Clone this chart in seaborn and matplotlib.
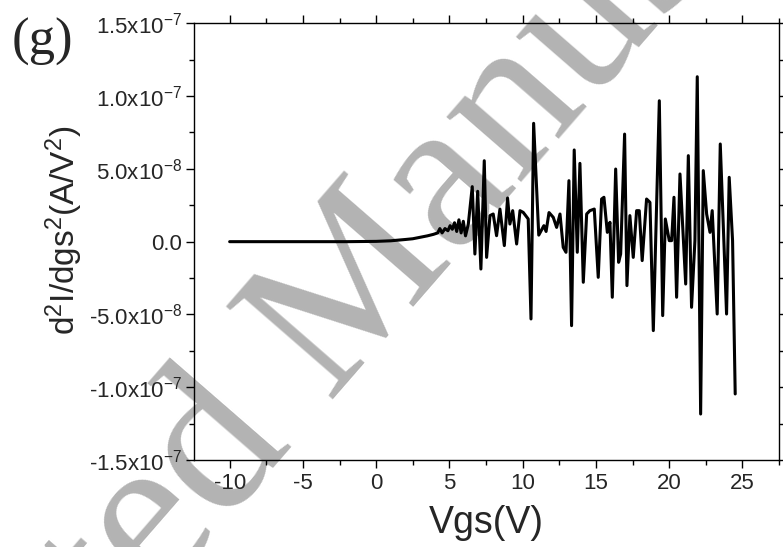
import matplotlib
matplotlib.use("Agg")
import matplotlib.pyplot as plt
import seaborn as sns
import numpy as np
from matplotlib.ticker import MultipleLocator, FixedLocator, FixedFormatter

# gate voltage (V) and second derivative of drain current (in units of 1e-8 A/V^2)
vgs = [-10.0, -8.0, -6.0, -4.0, -2.0, 0.0, 1.0, 2.0, 2.5, 3.0, 3.5, 3.9, 4.2, 4.35,
       4.5, 4.7, 4.9, 5.05, 5.2, 5.35, 5.5, 5.65, 5.8, 5.95, 6.1, 6.29,
       6.56, 6.74, 6.93, 7.15, 7.38, 7.54, 7.77, 7.99, 8.22, 8.45, 8.75, 8.97,
       9.13, 9.32, 9.59, 9.82, 10.04, 10.38, 10.57, 10.75, 11.1, 11.45, 11.6,
       11.8, 12.09, 12.32, 12.55, 12.77, 12.96, 13.16, 13.34, 13.52, 13.73,
       13.91, 14.14, 14.37, 14.59, 14.89, 15.16, 15.39, 15.55, 15.78, 15.96,
       16.12, 16.35, 16.55, 16.69, 16.96, 17.12, 17.32, 17.55, 17.78, 17.96,
       18.16, 18.46, 18.69, 18.92, 19.33, 19.56, 19.74, 20.01, 20.17, 20.33,
       20.51, 20.74, 21.13, 21.31, 21.53, 21.76, 21.92, 22.15, 22.33, 22.56,
       22.79, 22.94, 23.28, 23.49, 23.92, 24.10, 24.33, 24.51]
d2i_e8 = [0.0, 0.0, 0.0, 0.0, 0.0, 0.02, 0.06, 0.15, 0.2, 0.3, 0.4, 0.5, 0.6, 0.9,
          0.6, 0.9, 0.75, 1.1, 0.85, 1.3, 0.7, 1.5, 0.6, 1.4, 0.4, 1.2,
          3.78, -0.85, 3.46, -1.88, 5.56, -1.08, 1.79, 1.9, 0.41, 2.24, -0.27, 3.0,
          1.21, 2.13, -0.16, 2.13, 2.01, 1.56, -5.31, 8.13, 0.45, 1.1, 0.7,
          2.0, 1.67, 0.98, 1.9, -0.39, -0.73, 4.19, -5.77, 6.3, -0.73,
          5.38, -2.79, 1.9, 2.13, 2.24, -2.45, 2.93, 3.05, 0.64, 1.33,
          -3.82, 4.99, -1.42, -0.85, 7.39, -3.02, 1.79, -1.08, 2.13, 2.13,
          -1.3, 2.93, 2.7, -6.11, 9.68, -5.08, 1.56, 0.07, 0.07, 3.05,
          -3.82, 4.65, -2.91, 5.91, -4.51, 0.07, 11.33, -11.84, 4.88, 1.9,
          0.64, 2.13, -4.97, 6.71, -4.97, 4.42, 0.07, -10.46]

x_ticks = [-10, -5, 0, 5, 10, 15, 20, 25]
y_ticks = [-1.5e-7, -1.0e-7, -5e-8, 0.0, 5e-8, 1.0e-7, 1.5e-7]
y_tick_labels = ["-1.5x10$^{-7}$", "-1.0x10$^{-7}$", "-5.0x10$^{-8}$", "0.0",
                 "5.0x10$^{-8}$", "1.0x10$^{-7}$", "1.5x10$^{-7}$"]

sns.set_theme(style="ticks")
plt.rcParams["font.family"] = ["Liberation Sans", "DejaVu Sans"]
plt.rcParams["mathtext.fontset"] = "custom"
plt.rcParams["mathtext.rm"] = "Liberation Sans"
plt.rcParams["mathtext.it"] = "Liberation Sans:italic"
plt.rcParams["mathtext.bf"] = "Liberation Sans:bold"
plt.rcParams["axes.unicode_minus"] = False

fig = plt.figure(figsize=(7.83, 5.47), dpi=100)
ax = fig.add_axes([0.2484, 0.159, 0.7465, 0.7984])

# watermark behind the data
fig.text(0.419, 0.404, "Accepted Manuscript", rotation=49, fontsize=156,
         family="Liberation Serif", color="#b3b3b3", ha="center", va="center",
         rotation_mode="anchor", zorder=1)
ax.set_zorder(2)
ax.patch.set_alpha(0)

y_vals = np.array(d2i_e8) * 1e-8
sns.lineplot(x=vgs, y=y_vals, color="black", linewidth=2.2, ax=ax)

ax.set_xlim(-12.4, 27.5)
ax.set_ylim(-1.5e-7, 1.5e-7)
ax.xaxis.set_major_locator(FixedLocator(x_ticks))
ax.xaxis.set_minor_locator(MultipleLocator(2.5))
ax.yaxis.set_major_locator(FixedLocator(y_ticks))
ax.yaxis.set_major_formatter(FixedFormatter(y_tick_labels))
ax.yaxis.set_minor_locator(MultipleLocator(2.5e-8))

for s in ax.spines.values():
    s.set_visible(True)
    s.set_linewidth(1.0)
    s.set_color("black")
ax.tick_params(which="both", direction="out", top=True, right=True,
               labeltop=False, labelright=False, color="black", width=1.0)
ax.tick_params(which="major", length=6, labelsize=16, pad=3)
ax.tick_params(which="minor", length=3.5)

ax.set_xlabel("Vgs(V)", fontsize=27, labelpad=8)
ax.set_ylabel("d$^2$I/dgs$^2$(A/V$^2$)", fontsize=24)
ax.yaxis.set_label_coords(-0.187, 0.527)

fig.text(0.015, 0.968, "(g)", family="Liberation Serif", fontsize=38,
         ha="left", va="top")

fig.savefig("out.png", dpi=100, facecolor="white")
